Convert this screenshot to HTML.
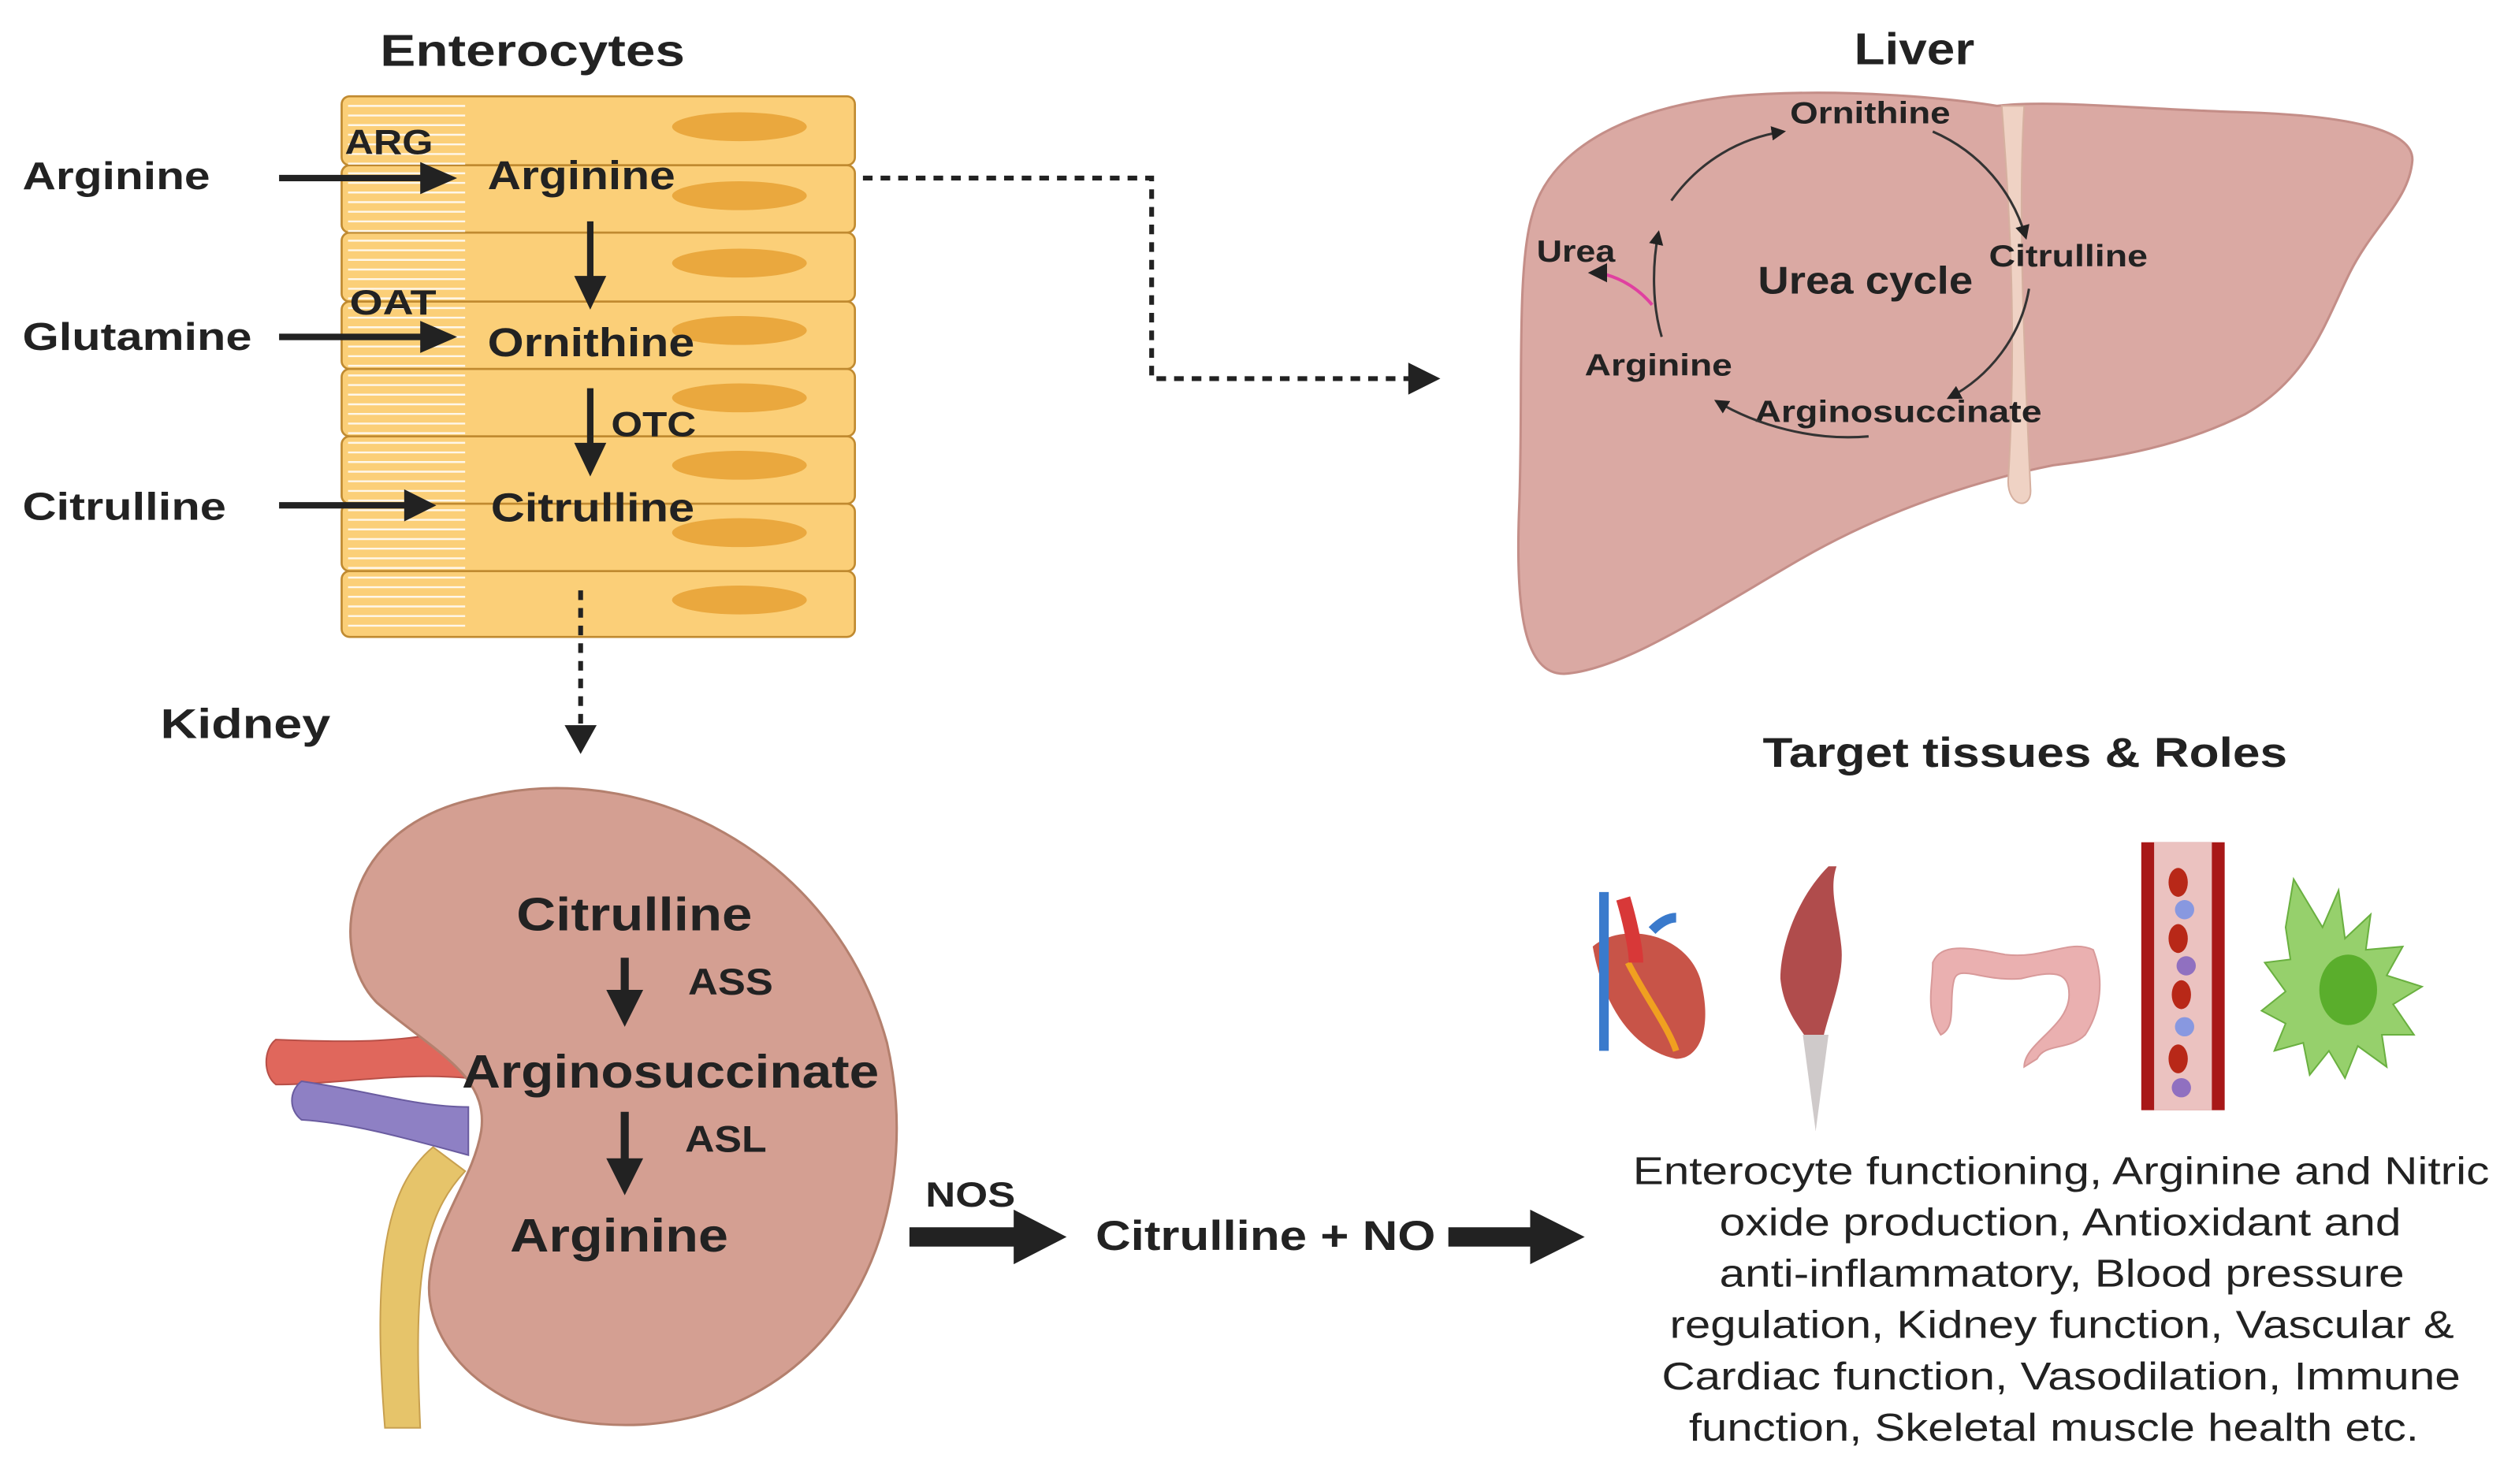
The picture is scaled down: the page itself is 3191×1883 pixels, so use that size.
<!DOCTYPE html>
<html><head><meta charset="utf-8"><style>
html,body{margin:0;padding:0;background:#fff}
svg{display:block}
text{font-family:"Liberation Sans",sans-serif;font-weight:bold;fill:#222}
.n{font-weight:normal}
</style></head><body>
<svg width="3191" height="1883" viewBox="0 0 1568 925" preserveAspectRatio="none" xmlns="http://www.w3.org/2000/svg">
<defs>
<marker id="ah2" markerWidth="6" markerHeight="6" refX="5" refY="3" orient="auto" markerUnits="strokeWidth"><path d="M0,0 L6,3 L0,6 z" fill="#222"/></marker>
</defs>
<!-- Enterocytes -->
<text x="237" y="41" font-size="28" textLength="190" lengthAdjust="spacingAndGlyphs">Enterocytes</text>
<g stroke="#C08A30" stroke-width="1.3" fill="#FBCF78">
<rect x="213" y="60" width="320" height="43" rx="5"/>
<rect x="213" y="103" width="320" height="42" rx="5"/>
<rect x="213" y="145" width="320" height="43" rx="5"/>
<rect x="213" y="188" width="320" height="42" rx="5"/>
<rect x="213" y="230" width="320" height="42" rx="5"/>
<rect x="213" y="272" width="320" height="42" rx="5"/>
<rect x="213" y="314" width="320" height="42" rx="5"/>
<rect x="213" y="356" width="320" height="41" rx="5"/>
</g>
<g fill="#EAA83E">
<ellipse cx="461" cy="79" rx="42" ry="9"/><ellipse cx="461" cy="122" rx="42" ry="9"/>
<ellipse cx="461" cy="164" rx="42" ry="9"/><ellipse cx="461" cy="206" rx="42" ry="9"/>
<ellipse cx="461" cy="248" rx="42" ry="9"/><ellipse cx="461" cy="290" rx="42" ry="9"/>
<ellipse cx="461" cy="332" rx="42" ry="9"/><ellipse cx="461" cy="374" rx="42" ry="9"/>
</g>
<g stroke="#fff" stroke-width="1.2" opacity="0.85">
<path d="M217 66H290M217 72H290M217 78H290M217 84H290M217 90H290M217 96H290M217 102H290M217 108H290M217 114H290M217 120H290M217 126H290M217 132H290M217 138H290M217 144H290M217 150H290M217 156H290M217 162H290M217 168H290M217 174H290M217 180H290M217 186H290M217 192H290M217 198H290M217 204H290M217 210H290M217 216H290M217 222H290M217 228H290M217 234H290M217 240H290M217 246H290M217 252H290M217 258H290M217 264H290M217 270H290M217 276H290M217 282H290M217 288H290M217 294H290M217 300H290M217 306H290M217 312H290M217 318H290M217 324H290M217 330H290M217 336H290M217 342H290M217 348H290M217 354H290M217 360H290M217 366H290M217 372H290M217 378H290M217 384H290M217 390H290"/>
</g>
<text x="14" y="118" font-size="24" textLength="117" lengthAdjust="spacingAndGlyphs">Arginine</text>
<text x="14" y="218" font-size="24" textLength="143" lengthAdjust="spacingAndGlyphs">Glutamine</text>
<text x="14" y="324" font-size="24" textLength="127" lengthAdjust="spacingAndGlyphs">Citrulline</text>
<text x="215" y="96" font-size="22" textLength="55" lengthAdjust="spacingAndGlyphs">ARG</text>
<text x="218" y="196" font-size="22" textLength="54" lengthAdjust="spacingAndGlyphs">OAT</text>
<text x="304" y="118" font-size="25" textLength="117" lengthAdjust="spacingAndGlyphs">Arginine</text>
<text x="304" y="222" font-size="25" textLength="129" lengthAdjust="spacingAndGlyphs">Ornithine</text>
<text x="306" y="325" font-size="25" textLength="127" lengthAdjust="spacingAndGlyphs">Citrulline</text>
<text x="381" y="272" font-size="22" textLength="53" lengthAdjust="spacingAndGlyphs">OTC</text>
<g fill="#222">
<path d="M174 109H262V101L285 111L262 121V113H174Z"/>
<path d="M174 208H262V200L285 210L262 220V212H174Z"/>
<path d="M174 313H252V305L272 315L252 325V317H174Z"/>
<path d="M366 138H370V172H378L368 193L358 172H366Z"/>
<path d="M366 242H370V276H378L368 297L358 276H366Z"/>
</g>
<g stroke="#222" stroke-width="3" fill="none" stroke-dasharray="6,5">
<path d="M538 111H718V236H880"/>
<path d="M362 368V455"/>
</g>
<path d="M878 226L898 236L878 246z" fill="#222"/>
<path d="M352 452L362 470L372 452z" fill="#222"/>
<!-- Liver -->
<text x="1156" y="40" font-size="28" textLength="75" lengthAdjust="spacingAndGlyphs">Liver</text>
<path d="M955 135 C965 95 1010 68 1080 60 C1150 54 1220 62 1245 66 C1280 62 1330 68 1400 70 C1460 72 1505 80 1504 100 C1502 125 1480 140 1465 170 C1450 200 1440 235 1400 258 C1360 278 1320 285 1280 290 C1240 298 1180 315 1120 350 C1060 385 1010 418 975 420 C950 420 945 380 947 320 C950 250 945 170 955 135Z" fill="#DAA9A3" stroke="#C48E88" stroke-width="1.5"/>
<path d="M1248 66 C1252 120 1258 200 1252 300 C1252 316 1266 318 1266 306 C1262 220 1258 130 1262 66Z" fill="#EFD2C4" stroke="#D6B0A0" stroke-width="1"/>
<text x="1116" y="77" font-size="19" textLength="100" lengthAdjust="spacingAndGlyphs">Ornithine</text>
<text x="1240" y="166" font-size="19" textLength="99" lengthAdjust="spacingAndGlyphs">Citrulline</text>
<text x="958" y="163" font-size="19" textLength="49" lengthAdjust="spacingAndGlyphs">Urea</text>
<text x="1096" y="183" font-size="24" textLength="134" lengthAdjust="spacingAndGlyphs">Urea cycle</text>
<text x="988" y="234" font-size="19" textLength="92" lengthAdjust="spacingAndGlyphs">Arginine</text>
<text x="1094" y="263" font-size="19" textLength="179" lengthAdjust="spacingAndGlyphs">Arginosuccinate</text>
<g stroke="#333" stroke-width="1.5" fill="none">
<path d="M1042 125 C1060 100 1085 86 1112 82" marker-end="url(#ah2)"/>
<path d="M1205 82 C1235 95 1255 120 1263 148" marker-end="url(#ah2)"/>
<path d="M1265 180 C1260 210 1240 235 1215 248" marker-end="url(#ah2)"/>
<path d="M1165 272 C1130 275 1095 265 1070 250" marker-end="url(#ah2)"/>
<path d="M1036 210 C1030 190 1030 165 1034 145" marker-end="url(#ah2)"/>
</g>
<path d="M1030 190 C1020 178 1005 170 992 170" stroke="#E040A0" stroke-width="2" fill="none" marker-end="url(#ah2)"/>
<!-- Kidney -->
<text x="100" y="460" font-size="26" textLength="106" lengthAdjust="spacingAndGlyphs">Kidney</text>
<path d="M270 715 C240 740 232 790 240 890 L262 890 C258 800 262 760 290 730Z" fill="#E6C46A" stroke="#C8A050"/>
<path d="M172 648 C220 650 255 650 292 640 L292 672 C250 668 210 676 172 676 C164 670 164 654 172 648Z" fill="#E0675C" stroke="#B85048"/>
<path d="M188 674 C230 680 260 690 292 690 L292 720 C255 710 220 700 188 698 C180 692 180 680 188 674Z" fill="#8E80C4" stroke="#6A5CA0"/>
<path d="M300 497 C400 472 520 530 553 650 C578 760 525 880 400 888 C310 892 262 840 268 795 C272 760 295 735 300 705 C305 670 270 655 235 625 C205 595 210 515 300 497Z" fill="#D49F92" stroke="#B4806E" stroke-width="1.5"/>
<text x="322" y="580" font-size="29" textLength="147" lengthAdjust="spacingAndGlyphs">Citrulline</text>
<text x="429" y="620" font-size="23" textLength="53" lengthAdjust="spacingAndGlyphs">ASS</text>
<text x="288" y="678" font-size="29" textLength="260" lengthAdjust="spacingAndGlyphs">Arginosuccinate</text>
<text x="427" y="718" font-size="23" textLength="51" lengthAdjust="spacingAndGlyphs">ASL</text>
<text x="318" y="780" font-size="29" textLength="136" lengthAdjust="spacingAndGlyphs">Arginine</text>
<g fill="#222">
<path d="M387 597H392V617H401L389.5 640L378 617H387Z"/>
<path d="M387 693H392V722H401L389.5 745L378 722H387Z"/>
</g>
<text x="577" y="752" font-size="22" textLength="56" lengthAdjust="spacingAndGlyphs">NOS</text>
<path d="M567 765H632V754L665 771L632 788V777H567Z" fill="#222"/>
<text x="683" y="779" font-size="26" textLength="212" lengthAdjust="spacingAndGlyphs">Citrulline + NO</text>
<path d="M903 765H954V754L988 771L954 788V777H903Z" fill="#222"/>
<!-- Target tissues -->
<text x="1099" y="478" font-size="26" textLength="327" lengthAdjust="spacingAndGlyphs">Target tissues &amp; Roles</text>
<!-- heart -->
<path d="M993 590 C1010 575 1050 580 1060 610 C1068 640 1060 660 1045 660 C1020 655 1000 630 993 590Z" fill="#C85448"/>
<path d="M1015 600 C1025 620 1040 640 1045 655" stroke="#F0A020" stroke-width="4" fill="none"/>
<path d="M1000 556 V655" stroke="#3A7ACC" stroke-width="6"/>
<path d="M1012 560 C1015 570 1020 590 1020 600" stroke="#D83838" stroke-width="9" fill="none"/>
<path d="M1030 580 C1035 575 1040 572 1045 572" stroke="#3A7ACC" stroke-width="6" fill="none"/>
<!-- muscle -->
<path d="M1140 540 C1120 560 1110 590 1110 610 C1112 630 1122 640 1128 650 L1132 705 L1136 650 C1140 630 1150 610 1148 590 C1146 570 1140 555 1145 540Z" fill="#B04C4C"/>
<path d="M1124 645 L1132 705 L1140 645Z" fill="#CFCACA"/>
<!-- colon -->
<path d="M1205 600 C1210 588 1225 590 1250 595 C1275 598 1290 585 1305 592 C1312 610 1310 630 1300 645 C1290 655 1275 650 1270 660 L1262 665 C1262 650 1290 640 1290 620 C1290 605 1280 605 1260 610 C1235 612 1220 600 1218 612 C1215 625 1220 640 1210 645 C1200 630 1205 615 1205 600Z" fill="#EAB0B0" stroke="#D89A9A"/>
<!-- vessel -->
<rect x="1335" y="525" width="52" height="167" fill="#A81818"/>
<rect x="1343" y="525" width="36" height="167" fill="#EBC2C0"/>
<g fill="#B82818"><ellipse cx="1358" cy="550" rx="6" ry="9"/><ellipse cx="1358" cy="585" rx="6" ry="9"/><ellipse cx="1360" cy="620" rx="6" ry="9"/><ellipse cx="1358" cy="660" rx="6" ry="9"/></g>
<g fill="#8898E0"><circle cx="1362" cy="567" r="6"/><circle cx="1362" cy="640" r="6"/></g>
<g fill="#9070C0"><circle cx="1363" cy="602" r="6"/><circle cx="1360" cy="678" r="6"/></g>
<!-- immune cell -->
<path d="M1430 548 L1448 578 L1458 555 L1462 585 L1478 570 L1475 592 L1498 590 L1488 608 L1510 615 L1492 626 L1505 645 L1485 645 L1488 665 L1470 652 L1462 672 L1452 655 L1440 670 L1436 650 L1418 655 L1425 638 L1410 630 L1425 618 L1412 600 L1428 598 L1425 578Z" fill="#96D06C" stroke="#6AB040"/>
<ellipse cx="1464" cy="617" rx="18" ry="22" fill="#5AAE2C"/>
<g font-size="24">
<text class="n" x="1018" y="738" textLength="534" lengthAdjust="spacingAndGlyphs">Enterocyte functioning, Arginine and Nitric</text>
<text class="n" x="1072" y="770" textLength="425" lengthAdjust="spacingAndGlyphs">oxide production, Antioxidant and</text>
<text class="n" x="1072" y="802" textLength="427" lengthAdjust="spacingAndGlyphs">anti-inflammatory, Blood pressure</text>
<text class="n" x="1041" y="834" textLength="489" lengthAdjust="spacingAndGlyphs">regulation, Kidney function, Vascular &amp;</text>
<text class="n" x="1036" y="866" textLength="498" lengthAdjust="spacingAndGlyphs">Cardiac function, Vasodilation, Immune</text>
<text class="n" x="1053" y="898" textLength="455" lengthAdjust="spacingAndGlyphs">function, Skeletal muscle health etc.</text>
</g>
</svg>
</body></html>
